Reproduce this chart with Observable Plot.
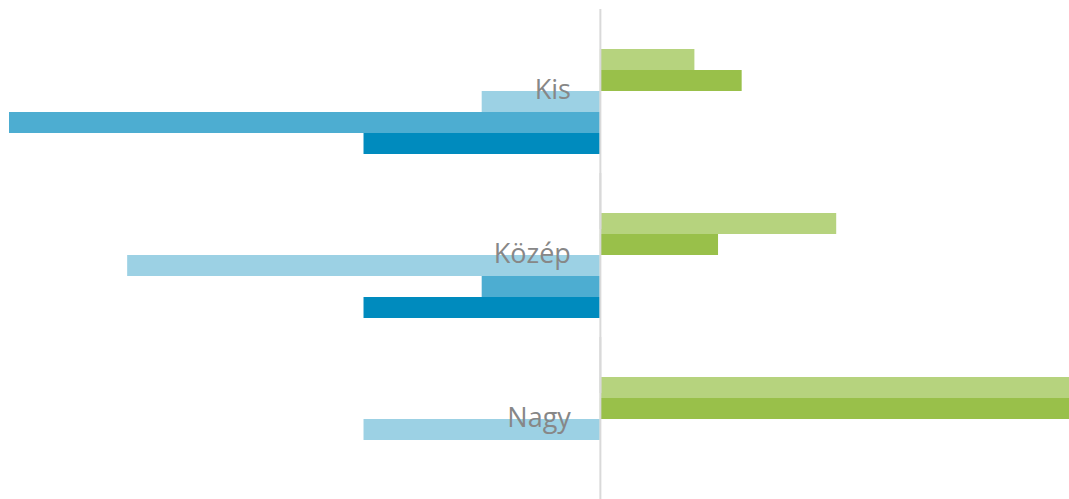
<!DOCTYPE html>
<html>
<head>
<meta charset="utf-8">
<script src="https://cdn.jsdelivr.net/npm/d3@7"></script>
<script src="https://cdn.jsdelivr.net/npm/@observablehq/plot@0.6"></script>
<style>
  html, body { margin: 0; padding: 0; background: #ffffff; overflow: hidden; }
  #chart svg { display: block; }
</style>
</head>
<body>
<div id="chart"></div>
<script>
const categories = ["Kis", "Közép", "Nagy"];
const seriesNames = ["Sorozat 1", "Sorozat 2", "Sorozat 3", "Sorozat 4", "Sorozat 5"];
const seriesColors = ["#b6d37e", "#99c04a", "#9cd1e4", "#4dadd1", "#008bbe"];
const series1 = [0.8, 2, 4];
const series2 = [1.2, 1, 4];
const series3 = [-1, -4, -2];
const series4 = [-5, -1, 0];
const series5 = [-2, -2, 0];

const allSeries = [series1, series2, series3, series4, series5];
const data = [];
categories.forEach((cat, i) => {
  allSeries.forEach((vals, j) => {
    data.push({cat, series: seriesNames[j], value: vals[i]});
  });
});

const chart = Plot.plot({
  width: 1069,
  height: 499,
  marginTop: 0,
  marginBottom: 0,
  marginLeft: 0,
  marginRight: 0,
  style: {background: "#ffffff", overflow: "hidden"},
  x: {domain: [-5, 3.97], range: [9, 1069], axis: null},
  y: {domain: seriesNames, padding: 0, axis: null},
  fy: {domain: categories, paddingInner: 0.3617, paddingOuter: 0.1976, align: 0.738, axis: null, label: null},
  color: {domain: seriesNames, range: seriesColors},
  marks: [
    Plot.barX(data, {fy: "cat", y: "series", x: "value", fill: "series"}),
    Plot.ruleX([0], {stroke: "#d9d9d9", strokeWidth: 2, insetTop: -40, insetBottom: -75}),
    Plot.text(categories, {
      fy: d => d, text: d => d, x: 0, dx: -29.5, dy: -11.8,
      textAnchor: "end", fill: "#878787", fontSize: 27, fontFamily: "Open Sans"
    })
  ]
});
document.getElementById("chart").appendChild(chart);
</script>
</body>
</html>
